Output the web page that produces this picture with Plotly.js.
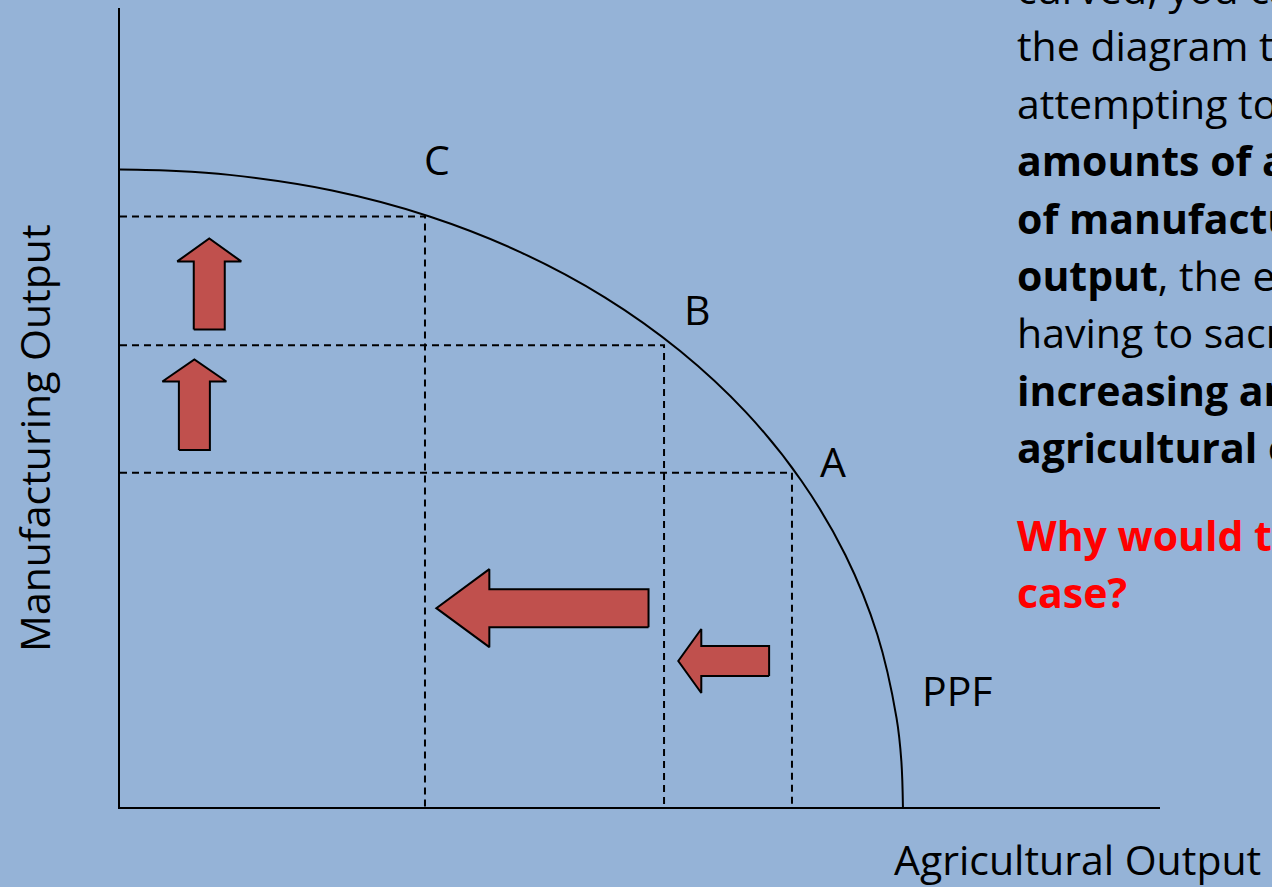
<!DOCTYPE html>
<html>
<head>
<meta charset="utf-8">
<script src="https://cdn.plot.ly/plotly-3.0.1.min.js"></script>
<style>html,body{margin:0;padding:0;background:#95B3D7;}</style>
</head>
<body>
<div id="chart" style="width:1272px;height:887px;"></div>
<script>
// ---- data (abstract output units) ----
const ppfX = [0, 0.717, 1.398, 2.709, 3.953, 5.118, 6.191, 7.154, 7.996, 8.702, 9.264, 9.671, 9.917, 9.979, 10.0];
const ppfY = [10.0, 9.979, 9.917, 9.671, 9.264, 8.702, 7.996, 7.154, 6.191, 5.118, 3.953, 2.709, 1.398, 0.717, -0.08];

const pointNames = ['C', 'B', 'A'];
const pointX = [3.895, 6.948, 8.582];
const pointY = [9.264, 7.246, 5.243];
const labelX = [4.05, 7.37, 9.11];
const labelY = [10.16, 7.81, 5.43];
const curveName = 'PPF';
const curveLabelX = 10.70;
const curveLabelY = 1.83;

// up arrows (gain in manufacturing output)
const upArrowX = [1.14, 0.95];
const upArrowTailY = [7.49, 5.60];
const upArrowTipY = [8.92, 7.02];
// left arrows (agricultural output sacrificed)
const leftArrowY = [3.12, 2.29];
const leftArrowTailX = [6.75, 8.29];
const leftArrowTipX = [4.04, 7.13];

const xTitle = 'Agricultural Output';
const yTitle = 'Manufacturing Output';

const textLines = [
  'curved, you can see from',
  'the diagram that when',
  'attempting to produce <b>increasing</b>',
  '<b>amounts of additional units</b>',
  '<b>of manufacturing</b>',
  '<b>output</b>, the economy ends up',
  'having to sacrifice',
  '<b>increasing amounts of</b>',
  '<b>agricultural output</b>.'
];
const questionLines = ['<b>Why would this be the</b>', '<b>case?</b>'];

// ---- layout geometry (styles) ----
const W = 1272, H = 887;
const margin = {l: 120, r: 112, t: 8, b: 80};
const plotW = W - margin.l - margin.r;
const plotH = H - margin.t - margin.b;
const xRange = [0, 13.282];
const yRange = [0, 12.535];
const kx = (xRange[1] - xRange[0]) / plotW; // data per px
const ky = (yRange[1] - yRange[0]) / plotH;

const FONT = '"Open Sans", "Noto Sans", sans-serif';
const FS = 41;
const arrowFill = '#C0504D';
const upStyle = {shaft: [31, 31], head: [64, 64], len: [23, 22]};
const leftStyle = {shaft: [38, 30], head: [78, 64], len: [53, 23]};

function arrowPoly(x0, y0, x1, y1, s, h, L) {
  const X0 = x0 / kx, Y0 = y0 / ky, X1 = x1 / kx, Y1 = y1 / ky;
  const dx = X1 - X0, dy = Y1 - Y0, len = Math.hypot(dx, dy);
  const ux = dx / len, uy = dy / len, nx = -uy, ny = ux;
  const bx = X1 - ux * L, by = Y1 - uy * L;
  const pts = [
    [X0 + nx * s / 2, Y0 + ny * s / 2],
    [bx + nx * s / 2, by + ny * s / 2],
    [bx + nx * h / 2, by + ny * h / 2],
    [X1, Y1],
    [bx - nx * h / 2, by - ny * h / 2],
    [bx - nx * s / 2, by - ny * s / 2],
    [X0 - nx * s / 2, Y0 - ny * s / 2],
    [X0 + nx * s / 2, Y0 + ny * s / 2]
  ];
  return {x: pts.map(p => p[0] * kx), y: pts.map(p => p[1] * ky)};
}

const traces = [];
for (let i = 0; i < pointX.length; i++) {
  traces.push({
    x: [0, pointX[i], pointX[i]], y: [pointY[i], pointY[i], 0],
    mode: 'lines', line: {color: 'black', width: 2, dash: '7px,5px'},
    hoverinfo: 'skip', showlegend: false, cliponaxis: false
  });
}
traces.push({
  x: ppfX, y: ppfY, mode: 'lines',
  line: {color: 'black', width: 2, shape: 'spline', smoothing: 1},
  hoverinfo: 'skip', showlegend: false, cliponaxis: false
});
for (let i = 0; i < upArrowX.length; i++) {
  const p = arrowPoly(upArrowX[i], upArrowTailY[i], upArrowX[i], upArrowTipY[i],
                      upStyle.shaft[i], upStyle.head[i], upStyle.len[i]);
  traces.push({x: p.x, y: p.y, mode: 'lines', fill: 'toself', fillcolor: arrowFill,
    line: {color: 'black', width: 2}, hoverinfo: 'skip', showlegend: false});
}
for (let i = 0; i < leftArrowY.length; i++) {
  const p = arrowPoly(leftArrowTailX[i], leftArrowY[i], leftArrowTipX[i], leftArrowY[i],
                      leftStyle.shaft[i], leftStyle.head[i], leftStyle.len[i]);
  traces.push({x: p.x, y: p.y, mode: 'lines', fill: 'toself', fillcolor: arrowFill,
    line: {color: 'black', width: 2}, hoverinfo: 'skip', showlegend: false});
}

const annotations = [];
for (let i = 0; i < pointNames.length; i++) {
  annotations.push({x: labelX[i], y: labelY[i], xref: 'x', yref: 'y', text: pointNames[i],
    xanchor: 'center', yanchor: 'middle',
    showarrow: false, font: {family: FONT, size: FS, color: 'black'}});
}
annotations.push({x: curveLabelX, y: curveLabelY, xref: 'x', yref: 'y', text: curveName,
  xanchor: 'center', yanchor: 'middle',
  showarrow: false, font: {family: FONT, size: FS, color: 'black'}});
// axis titles
function px2paperX(px) { return (px - margin.l) / plotW; }
function py2paperY(py) { return 1 - (py - margin.t) / plotH; }
annotations.push({x: px2paperX(1077), y: py2paperY(859), xref: 'paper', yref: 'paper',
  xanchor: 'center', yanchor: 'middle',
  text: xTitle, showarrow: false, font: {family: FONT, size: FS, color: 'black'}});
annotations.push({x: px2paperX(34), y: py2paperY(438), xref: 'paper', yref: 'paper',
  xanchor: 'center', yanchor: 'middle',
  text: yTitle, textangle: -90, showarrow: false, font: {family: FONT, size: FS, color: 'black'}});
// explanatory text
const textX = px2paperX(1015);
const firstLineY = -12, lineStep = 57.4, qFirstY = 535, qStep = 57;
textLines.forEach((t, i) => {
  annotations.push({x: textX, y: py2paperY(firstLineY + i * lineStep), xref: 'paper', yref: 'paper',
    xanchor: 'left', yanchor: 'middle', align: 'left', text: t, showarrow: false,
    font: {family: FONT, size: FS, color: 'black'}});
});
questionLines.forEach((t, i) => {
  annotations.push({x: textX, y: py2paperY(qFirstY + i * qStep), xref: 'paper', yref: 'paper',
    xanchor: 'left', yanchor: 'middle', align: 'left', text: t, showarrow: false,
    font: {family: FONT, size: FS, color: '#FF0000'}});
});

const axisCommon = {showline: true, linecolor: 'black', linewidth: 2, showgrid: false,
  zeroline: false, showticklabels: false, ticks: '', fixedrange: true};

const layout = {
  width: W, height: H, margin: margin,
  paper_bgcolor: '#95B3D7', plot_bgcolor: '#95B3D7',
  xaxis: Object.assign({range: xRange}, axisCommon),
  yaxis: Object.assign({range: yRange}, axisCommon),
  annotations: annotations, showlegend: false
};

Plotly.newPlot('chart', traces, layout, {displayModeBar: false, staticPlot: true});
</script>
</body>
</html>
